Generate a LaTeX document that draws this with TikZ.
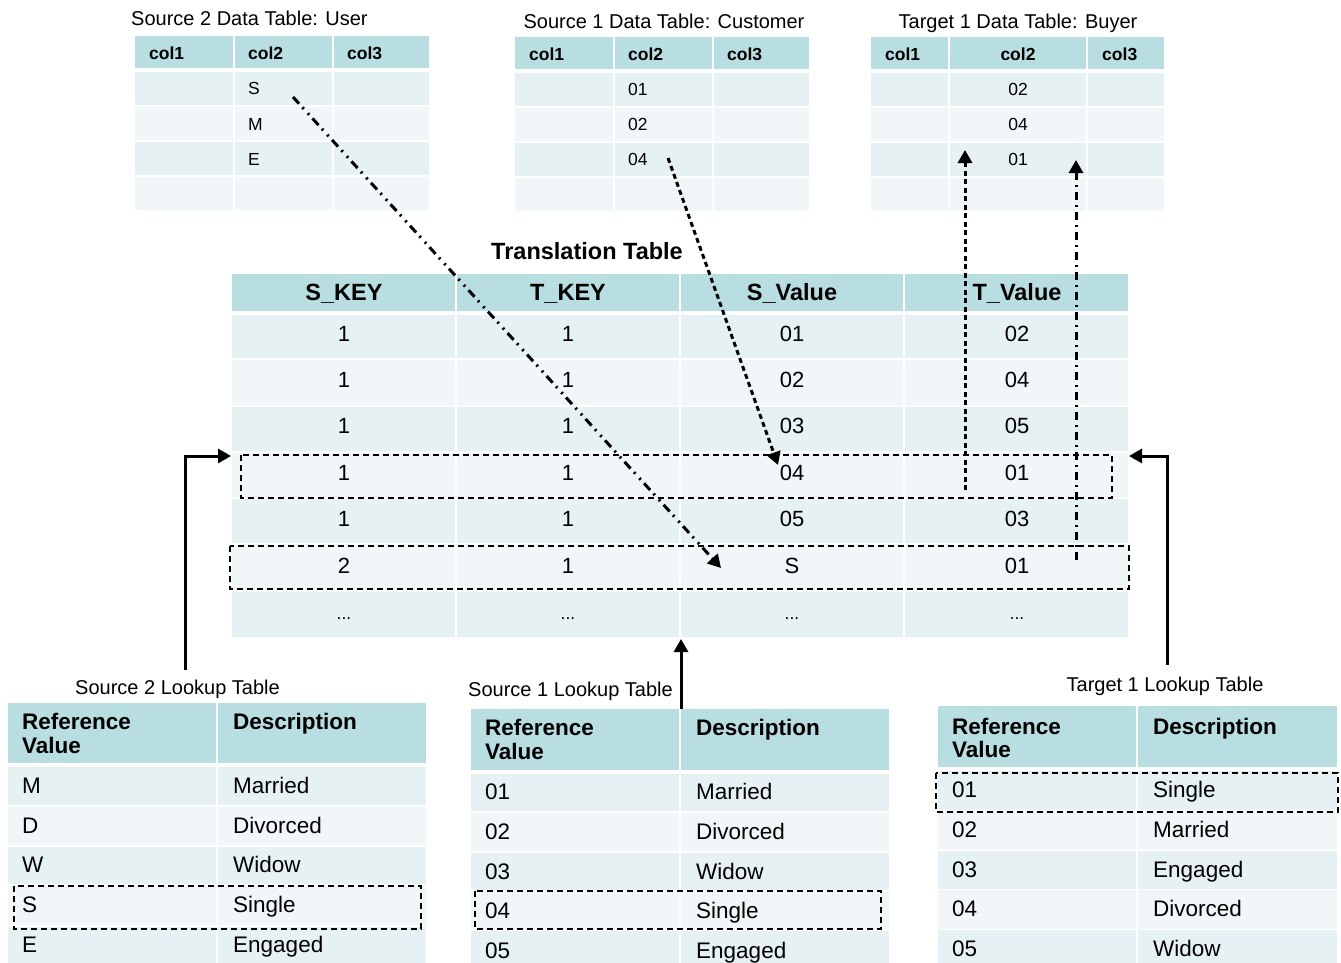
\documentclass[tikz,border=0pt]{standalone}
\usepackage{fontspec}
\setmainfont{Liberation Sans}
\usetikzlibrary{arrows.meta}
\definecolor{hdr}{RGB}{185,222,226}
\definecolor{ra}{RGB}{229,241,243}
\definecolor{rb}{RGB}{241,246,249}
\newcommand{\tablecells}[2]{\foreach \ya/\yb/\cc in {#2}{\foreach \xa/\xb in {#1}{\fill[fill=\cc] (\xa,\ya) rectangle (\xb,\yb);}}}
\begin{document}
\begin{tikzpicture}[x=1pt,y=-1pt,
  ttl/.style={font=\fontsize{20}{22}\selectfont, inner sep=0, yshift=-3pt},
  hd/.style={font=\bfseries\fontsize{17.5}{20}\selectfont, inner sep=0, yshift=-3pt},
  dt/.style={font=\fontsize{17.5}{20}\selectfont, inner sep=0, yshift=-3pt},
  thd/.style={font=\bfseries\fontsize{23.5}{26}\selectfont, inner sep=0, yshift=-4pt},
  tdt/.style={font=\fontsize{22}{26}\selectfont, inner sep=0, yshift=-4pt},
  lhd/.style={font=\bfseries\fontsize{22.5}{24}\selectfont, inner sep=0, yshift=-4pt},
  ldt/.style={font=\fontsize{22.5}{26}\selectfont, inner sep=0, yshift=-4pt},
  hbox/.style={draw=black, line width=2.5pt, dash pattern=on 6pt off 4pt},
  conn/.style={line width=3pt, -{Triangle[length=13pt,width=14pt]}},
  dashedconn/.style={conn, dash pattern=on 5pt off 3.5pt},
  ddconn/.style={conn, dash pattern=on 9pt off 5pt on 2pt off 6pt on 2pt off 5pt},
  dconn/.style={conn, dash pattern=on 8pt off 5pt on 2pt off 5pt}]
\useasboundingbox (0,0) rectangle (1341,963);

% ---------- Source 2 data table ----------
\tablecells{135/233,235/332,334/429}{36/68/hdr,72/105/ra,107/140/rb,142/175/ra,177/210/rb}
\node[ttl,anchor=mid west] (t-user) at (131,20) {Source 2 Data Table: User};
\node[hd,anchor=mid west] (u-h1) at (149,54) {col1};
\node[hd,anchor=mid west] (u-h2) at (248,54) {col2};
\node[hd,anchor=mid west] (u-h3) at (347,54) {col3};
\node[dt,anchor=mid west] (u-s) at (248,89) {S};
\node[dt,anchor=mid west] (u-m) at (248,125) {M};
\node[dt,anchor=mid west] (u-e) at (248,160) {E};

% ---------- Source 1 data table ----------
\tablecells{515/613,615/712,714/809}{37/69/hdr,73/106/ra,108/141/rb,143/176/ra,178/211/rb}
\node[ttl,anchor=mid] (t-cust) at (664,23) {Source 1 Data Table: Customer};
\node[hd,anchor=mid west] (c-h1) at (529,55) {col1};
\node[hd,anchor=mid west] (c-h2) at (628,55) {col2};
\node[hd,anchor=mid west] (c-h3) at (727,55) {col3};
\node[dt,anchor=mid west] (c-1) at (628,90) {01};
\node[dt,anchor=mid west] (c-2) at (628,125) {02};
\node[dt,anchor=mid west] (c-4) at (628,160) {04};

% ---------- Target 1 data table ----------
\tablecells{871/948,950/1086,1088/1164}{37/69/hdr,73/106/ra,108/141/rb,143/176/ra,178/211/rb}
\node[ttl,anchor=mid] (t-buyer) at (1018,23) {Target 1 Data Table: Buyer};
\node[hd,anchor=mid west] (b-h1) at (885,55) {col1};
\node[hd,anchor=mid] (b-h2) at (1018,55) {col2};
\node[hd,anchor=mid west] (b-h3) at (1102,55) {col3};
\node[dt,anchor=mid] (b-2) at (1018,90) {02};
\node[dt,anchor=mid] (b-4) at (1018,125) {04};
\node[dt,anchor=mid] (b-1) at (1018,160) {01};

% ---------- Translation table ----------
\node[thd,anchor=mid] (t-trans) at (587,253) {Translation Table};
\tablecells{232/455,457/679,681/903,905/1128}{274/311/hdr,315/358/ra,360/405/rb,407/451/ra,453/497/rb,499/543/ra,545/590/rb,592/637/ra}
\node[thd,anchor=mid] (tr-h1) at (344,294) {S\_KEY};
\node[thd,anchor=mid] (tr-h2) at (568,294) {T\_KEY};
\node[thd,anchor=mid] (tr-h3) at (792,294) {S\_Value};
\node[thd,anchor=mid] (tr-h4) at (1017,294) {T\_Value};
\foreach \y/\a/\b/\c/\d [count=\r] in {335/1/1/01/02,381/1/1/02/04,427/1/1/03/05,474/1/1/04/01,520/1/1/05/03,567/2/1/S/01}{
  \node[tdt,anchor=mid] (tr-\r-1) at (344,\y) {\a};
  \node[tdt,anchor=mid] (tr-\r-2) at (568,\y) {\b};
  \node[tdt,anchor=mid] (tr-\r-3) at (792,\y) {\c};
  \node[tdt,anchor=mid] (tr-\r-4) at (1017,\y) {\d};
}
\foreach \x [count=\c] in {344,568,792,1017}{
  \node[dt,anchor=mid] (tr-7-\c) at (\x,614) {...};
}
\draw[hbox] (241,455) rectangle (1112,498);
\draw[hbox] (230,546) rectangle (1129,589);

% ---------- Source 2 lookup table ----------
\node[ttl,anchor=mid west] (t-s2l) at (75,689) {Source 2 Lookup Table};
\tablecells{8/216,218/426}{703/763/hdr,767/805/ra,807/845/rb,847/884/ra,886/925/rb,927/963/ra}
\node[lhd,anchor=mid west] (s2-r) at (22,723) {Reference};
\node[lhd,anchor=mid west] (s2-v) at (22,747) {Value};
\node[lhd,anchor=mid west] (s2-d) at (233,723) {Description};
\foreach \y/\a/\b [count=\r] in {787/M/Married,827/D/Divorced,866/W/Widow,906/S/Single,946/E/Engaged}{
  \node[ldt,anchor=mid west] (s2-\r-1) at (22,\y) {\a};
  \node[ldt,anchor=mid west] (s2-\r-2) at (233,\y) {\b};
}
\draw[hbox] (14,886) rectangle (421,929);

% ---------- Source 1 lookup table ----------
\node[ttl,anchor=mid east] (t-s1l) at (673,691) {Source 1 Lookup Table};
\tablecells{471/679,681/889}{709/770/hdr,774/811/ra,813/851/rb,853/890/ra,892/929/rb,931/963/ra}
\node[lhd,anchor=mid west] (s1-r) at (485,729) {Reference};
\node[lhd,anchor=mid west] (s1-v) at (485,753) {Value};
\node[lhd,anchor=mid west] (s1-d) at (696,729) {Description};
\foreach \y/\a/\b [count=\r] in {793/01/Married,833/02/Divorced,873/03/Widow,912/04/Single,952/05/Engaged}{
  \node[ldt,anchor=mid west] (s1-\r-1) at (485,\y) {\a};
  \node[ldt,anchor=mid west] (s1-\r-2) at (696,\y) {\b};
}
\draw[hbox] (475,891) rectangle (881,929);

% ---------- Target 1 lookup table ----------
\node[ttl,anchor=mid] (t-t1l) at (1165,686) {Target 1 Lookup Table};
\tablecells{938/1136,1138/1337}{706/767/hdr,771/810/ra,811/849/rb,851/889/ra,890/929/rb,930/963/ra}
\node[lhd,anchor=mid west] (t1-r) at (952,728) {Reference};
\node[lhd,anchor=mid west] (t1-v) at (952,751) {Value};
\node[lhd,anchor=mid west] (t1-d) at (1153,728) {Description};
\foreach \y/\a/\b [count=\r] in {791/01/Single,831/02/Married,871/03/Engaged,910/04/Divorced,950/05/Widow}{
  \node[ldt,anchor=mid west] (t1-\r-1) at (952,\y) {\a};
  \node[ldt,anchor=mid west] (t1-\r-2) at (1153,\y) {\b};
}
\draw[hbox] (936,773) rectangle (1338,812);

% ---------- connectors ----------
\coordinate (a1s) at (293,97);   \coordinate (a1e) at (721,568);
\coordinate (a2s) at (668,158);  \coordinate (a2e) at (778,465);
\coordinate (a3s) at (965,490);  \coordinate (a3e) at (965,150);
\coordinate (a4s) at (1076,560); \coordinate (a4e) at (1076,160);
\coordinate (l1s) at (185,670);  \coordinate (l1e) at (231,456);
\coordinate (r1s) at (1167,665); \coordinate (r1e) at (1129,456);
\coordinate (m1s) at (681,709);  \coordinate (m1e) at (681,639);
\draw[ddconn] (a1s) -- (a1e);
\draw[dashedconn] (a2s) -- (a2e);
\draw[dashedconn] (a3s) -- (a3e);
\draw[dconn] (a4s) -- (a4e);
\draw[conn] (l1s) |- (l1e);
\draw[conn] (r1s) |- (r1e);
\draw[conn] (m1s) -- (m1e);
\end{tikzpicture}
\end{document}
